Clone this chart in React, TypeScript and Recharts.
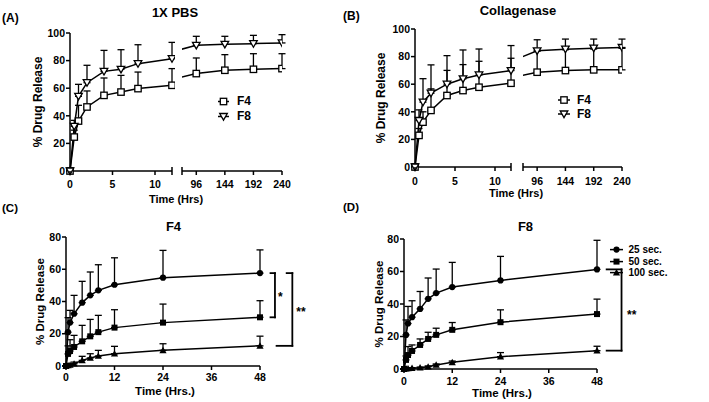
import React from "react";
import {
  LineChart,
  Line,
  XAxis,
  YAxis,
  ErrorBar,
  Legend,
  ReferenceLine,
} from "recharts";

const FONT = '"Liberation Sans", Arial, Helvetica, sans-serif';
const INK = "#000";

// (A) 1X PBS and (B) Collagenase: sampling times in hours, axis broken after 12 h
const hoursAB = [0, 0.5, 1, 2, 4, 6, 8, 12, 96, 144, 192, 240];
const earlyTicks = [0, 5, 10, 12];
const lateTicks = [72, 96, 144, 192, 240];
const pctTicks100 = [0, 20, 40, 60, 80, 100];

const pbsF4 = [0, 24.6, 36.2, 46.4, 54.8, 57.2, 59.7, 62.1, 70.6, 73.0, 73.7, 74.2];
const pbsF4Sd = [0, 5, 11.4, 11.6, 12.6, 12.1, 12.0, 12.1, 11.3, 11.3, 11.3, 10.8];
const pbsF8 = [0, 32.4, 54.1, 64.0, 72.2, 73.7, 77.8, 81.4, 91.1, 91.8, 92.3, 92.8];
const pbsF8Sd = [0, 4.3, 8.7, 12.6, 15.2, 14.2, 13.7, 11.8, 6.5, 5.8, 6.0, 6.0];

const colF4 = [0, 22.9, 32.5, 41.0, 51.8, 55.4, 57.8, 60.7, 68.7, 69.9, 70.4, 70.4];
const colF4Sd = [0, 5, 7.5, 15.6, 18.2, 18.8, 18.8, 18.1, 15.3, 15.1, 15.1, 15.6];
const colF8 = [0, 33.7, 47.0, 53.5, 60.0, 63.9, 66.7, 69.9, 84.2, 85.4, 86.1, 86.6];
const colF8Sd = [0, 7.7, 17.0, 20.5, 20.7, 20.9, 18.8, 18.1, 8.0, 7.3, 6.6, 6.1];

// (C) F4 and (D) F8: crosslinking time series
const hoursCD = [0, 0.5, 1, 2, 4, 6, 8, 12, 24, 48];
const timeTicks = [0, 12, 24, 36, 48];
const pctTicks80 = [0, 20, 40, 60, 80];

const f4Sec25 = [0, 21.0, 26.9, 32.4, 39.3, 43.8, 46.9, 50.4, 54.8, 57.6];
const f4Sec25Sd = [0, 9, 7.6, 11.4, 13.2, 14.5, 15.9, 16.7, 16.9, 14.4];
const f4Sec50 = [0, 7.5, 9.3, 11.8, 15.3, 18.4, 21.0, 23.8, 26.9, 30.2];
const f4Sec50Sd = [0, 5, 7, 7.2, 9.9, 10.5, 10.4, 11.1, 11.5, 10.3];
const f4Sec100 = [0, 0.4, 0.6, 1.4, 3.5, 5.0, 6.2, 7.6, 9.7, 12.5];
const f4Sec100Sd = [0, 0.4, 0.6, 1.0, 2.5, 2.6, 3.5, 4.6, 4.1, 6.0];

const f8Sec25 = [0, 21.0, 28.0, 31.9, 37.0, 43.2, 46.7, 50.4, 54.5, 61.3];
const f8Sec25Sd = [0, 9.2, 10.5, 10.1, 10.7, 12.8, 14.8, 15.2, 14.8, 17.9];
const f8Sec50 = [0, 5.6, 8.6, 11.1, 14.8, 18.5, 21.0, 24.1, 28.8, 33.8];
const f8Sec50Sd = [0, 2.4, 5.2, 3.7, 3.7, 4.1, 4.1, 4.5, 7.6, 9.2];
const f8Sec100 = [0, 0.2, 0.3, 0.5, 0.8, 1.4, 2.5, 4.1, 7.6, 11.3];
const f8Sec100Sd = [0, 0.2, 0.2, 0.3, 0.4, 0.5, 0.6, 0.8, 2.5, 2.7];

const last = (a: number[]) => a[a.length - 1];

// significance brackets, x in hours past the last sample
const bracketsC = [
  { topFrom: 50.6, botFrom: 50.6, spine: 51.7, top: last(f4Sec25), bottom: last(f4Sec50), label: "*", offset: 3, dy: 2 },
  { topFrom: 54.6, botFrom: 52.1, spine: 56.0, top: last(f4Sec25), bottom: last(f4Sec100), label: "**", offset: 4, dy: 2 },
];
const bracketsD = [
  { topFrom: 50.4, botFrom: 50.4, spine: 54.1, top: last(f8Sec25), bottom: last(f8Sec100), label: "**", offset: 5.5, dy: 5 },
];

type Shape = (cx: number, cy: number) => React.ReactElement;
const openSquare: Shape = (cx, cy) => (
  <rect x={cx - 3.2} y={cy - 3.2} width={6.4} height={6.4} fill="#fff" stroke={INK} strokeWidth={1.3} />
);
const openTriDown: Shape = (cx, cy) => (
  <polygon points={`${cx - 3.8},${cy - 3} ${cx + 3.8},${cy - 3} ${cx},${cy + 3.6}`} fill="#fff" stroke={INK} strokeWidth={1.3} />
);
const solidCircle: Shape = (cx, cy) => <circle cx={cx} cy={cy} r={3.1} fill={INK} />;
const solidSquare: Shape = (cx, cy) => <rect x={cx - 3} y={cy - 3} width={6} height={6} fill={INK} />;
const solidTriUp: Shape = (cx, cy) => (
  <polygon points={`${cx - 3.6},${cy + 2.8} ${cx + 3.6},${cy + 2.8} ${cx},${cy - 3.6}`} fill={INK} />
);

const dotOf = (shape: Shape) => (p: any) => (
  <g key={`dot-${p.index}`}>{p.cx == null || p.cy == null ? null : shape(p.cx, p.cy)}</g>
);

// legend rows keep the series order given by the shapes table
const legendContent =
  (shapes: Record<string, Shape>, rowH: number, swatchW: number, gap: number, fs: number) =>
  (props: any) => {
    const order = Object.keys(shapes);
    const items = [...(props.payload || [])].sort((a: any, b: any) => order.indexOf(a.value) - order.indexOf(b.value));
    return (
      <div style={{ fontFamily: FONT, fontWeight: 700, fontSize: fs, color: INK }}>
        {items.map((e: any) => (
          <div key={e.value} style={{ display: "flex", alignItems: "center", height: rowH, lineHeight: `${rowH}px` }}>
            <svg width={swatchW} height={rowH} style={{ display: "block" }}>
              <line x1={0} x2={swatchW} y1={rowH / 2} y2={rowH / 2} stroke={INK} strokeWidth={1.5} />
              {shapes[e.value] ? shapes[e.value](swatchW / 2, rowH / 2) : null}
            </svg>
            <span style={{ marginLeft: gap, whiteSpace: "nowrap" }}>{e.value}</span>
          </div>
        ))}
      </div>
    );
  };

const Txt = ({ x, y, size, children, center = true }: any) => (
  <div
    style={{
      position: "absolute",
      left: x,
      top: y - 0.49 * size,
      fontSize: size,
      lineHeight: `${size}px`,
      fontWeight: 700,
      whiteSpace: "nowrap",
      color: INK,
      transform: center ? "translateX(-50%)" : undefined,
    }}
  >
    {children}
  </div>
);

const axisStroke = { stroke: INK, strokeWidth: 1.5 };
const tickFont = { fill: INK, fontSize: 10.5, fontWeight: 700 };

// x ticks for the broken axis; the tick at the break runs through the axis
const breakTick = (edge: number, gap: number) => (p: any) => {
  const { x, y, payload } = p;
  const ay = y - 4 - gap;
  const isEdge = payload.value === edge;
  return (
    <g key={`tick-${payload.value}`}>
      <line x1={x} x2={x} y1={isEdge ? ay - 4 : ay} y2={ay + 4} stroke={INK} strokeWidth={1.5} />
      {!isEdge && (
        <text x={x} y={ay + 4 + gap} dy="0.71em" textAnchor="middle" {...tickFont}>
          {payload.value}
        </text>
      )}
    </g>
  );
};

type BrokenCfg = {
  top: number;
  plotH: number;
  height: number;
  leftX: number;
  leftW: number;
  yAxisW: number;
  leftMR: number;
  rightX: number;
  rightW: number;
  rightML: number;
  rightMR: number;
  gap: number;
  yLabelX: number;
  legendLeft: number;
  legendTop: number;
  rowH: number;
  swatchW: number;
  swatchGap: number;
};

const abShapes: Record<string, Shape> = { F4: openSquare, F8: openTriDown };

function BrokenPanel({ cfg, f4, f4Sd, f8, f8Sd }: { cfg: BrokenCfg; f4: number[]; f4Sd: number[]; f8: number[]; f8Sd: number[] }) {
  const rows = hoursAB.map((t, i) => ({
    t,
    F4: f4[i],
    f4Err: [0, f4Sd[i]],
    F8: f8[i],
    f8Err: [0, f8Sd[i]],
  }));
  const early = rows.filter((r) => r.t <= 12);
  const late = rows.filter((r) => r.t >= 12);
  const xh = cfg.height - cfg.top - cfg.plotH;

  const lines = (k: string) => [
    <Line
      key={`${k}-f4`}
      dataKey="F4"
      name="F4"
      stroke={INK}
      strokeWidth={1.5}
      dot={dotOf(openSquare)}
      activeDot={false}
      isAnimationActive={false}
    >
      <ErrorBar dataKey="f4Err" direction="y" width={3.5} stroke={INK} strokeWidth={1.3} />
    </Line>,
    <Line
      key={`${k}-f8`}
      dataKey="F8"
      name="F8"
      stroke={INK}
      strokeWidth={1.5}
      dot={dotOf(openTriDown)}
      activeDot={false}
      isAnimationActive={false}
    >
      <ErrorBar dataKey="f8Err" direction="y" width={3.5} stroke={INK} strokeWidth={1.3} />
    </Line>,
  ];

  return (
    <>
      <div style={{ position: "absolute", left: cfg.leftX, top: 0 }}>
        <LineChart width={cfg.leftW} height={cfg.height} data={early} margin={{ top: cfg.top, right: cfg.leftMR, left: 0, bottom: 0 }}>
          <XAxis
            dataKey="t"
            type="number"
            domain={[0, 12]}
            ticks={earlyTicks}
            interval={0}
            height={xh}
            axisLine={axisStroke}
            tickLine={false}
            tickSize={4}
            tickMargin={cfg.gap}
            tick={breakTick(12, cfg.gap)}
          />
          <YAxis
            type="number"
            domain={[0, 100]}
            ticks={pctTicks100}
            interval={0}
            width={cfg.yAxisW}
            axisLine={axisStroke}
            tickLine={axisStroke}
            tickSize={4}
            tickMargin={1}
            tick={tickFont}
            label={{
              value: "% Drug Release",
              angle: -90,
              position: "insideLeft",
              offset: cfg.yLabelX,
              style: { textAnchor: "middle", fontSize: 12, fontWeight: 700, fill: INK },
            }}
          />
          {lines("e")}
        </LineChart>
      </div>
      <div style={{ position: "absolute", left: cfg.rightX, top: 0 }}>
        <LineChart width={cfg.rightW} height={cfg.height} data={late} margin={{ top: cfg.top, right: cfg.rightMR, left: cfg.rightML, bottom: 0 }}>
          <XAxis
            dataKey="t"
            type="number"
            domain={[72, 240]}
            allowDataOverflow
            ticks={lateTicks}
            interval={0}
            height={xh}
            axisLine={axisStroke}
            tickLine={false}
            tickSize={4}
            tickMargin={cfg.gap}
            tick={breakTick(72, cfg.gap)}
          />
          <YAxis hide type="number" domain={[0, 100]} />
          {lines("l")}
          <Legend
            layout="vertical"
            verticalAlign="middle"
            align="center"
            wrapperStyle={{ left: cfg.legendLeft, top: cfg.legendTop, width: "auto" }}
            content={legendContent(abShapes, cfg.rowH, cfg.swatchW, cfg.swatchGap, 12)}
          />
        </LineChart>
      </div>
    </>
  );
}

type TimeCfg = {
  x: number;
  y: number;
  width: number;
  height: number;
  top: number;
  plotH: number;
  yAxisW: number;
  right: number;
  gap: number;
  yLabelX: number;
};

const cdShapes: Record<string, Shape> = { "25 sec.": solidCircle, "50 sec.": solidSquare, "100 sec.": solidTriUp };

function TimePanel({ cfg, series, brackets, legend }: any) {
  const [a, aSd, b, bSd, c, cSd] = series as number[][];
  const rows = hoursCD.map((t, i) => ({
    t,
    s25: a[i],
    e25: [0, aSd[i]],
    s50: b[i],
    e50: [0, bSd[i]],
    s100: c[i],
    e100: [0, cSd[i]],
  }));
  const xh = cfg.height - cfg.top - cfg.plotH;
  const br = { stroke: INK, strokeWidth: 1.8, strokeLinecap: "square" as const };

  return (
    <div style={{ position: "absolute", left: cfg.x, top: cfg.y }}>
      <LineChart width={cfg.width} height={cfg.height} data={rows} margin={{ top: cfg.top, right: cfg.right, left: 0, bottom: 0 }}>
        <XAxis
          dataKey="t"
          type="number"
          domain={[0, 48]}
          ticks={timeTicks}
          interval={0}
          height={xh}
          axisLine={axisStroke}
          tickLine={axisStroke}
          tickSize={4}
          tickMargin={cfg.gap}
          tick={tickFont}
        />
        <YAxis
          type="number"
          domain={[0, 80]}
          ticks={pctTicks80}
          interval={0}
          width={cfg.yAxisW}
          axisLine={axisStroke}
          tickLine={axisStroke}
          tickSize={4}
          tickMargin={1}
          tick={tickFont}
          label={{
            value: "% Drug Release",
            angle: -90,
            position: "insideLeft",
            offset: cfg.yLabelX,
            style: { textAnchor: "middle", fontSize: 11.5, fontWeight: 700, fill: INK },
          }}
        />
        <Line dataKey="s25" name="25 sec." stroke={INK} strokeWidth={1.5} dot={dotOf(solidCircle)} activeDot={false} isAnimationActive={false}>
          <ErrorBar dataKey="e25" direction="y" width={3.5} stroke={INK} strokeWidth={1.3} />
        </Line>
        <Line dataKey="s50" name="50 sec." stroke={INK} strokeWidth={1.5} dot={dotOf(solidSquare)} activeDot={false} isAnimationActive={false}>
          <ErrorBar dataKey="e50" direction="y" width={3.5} stroke={INK} strokeWidth={1.3} />
        </Line>
        <Line dataKey="s100" name="100 sec." stroke={INK} strokeWidth={1.5} dot={dotOf(solidTriUp)} activeDot={false} isAnimationActive={false}>
          <ErrorBar dataKey="e100" direction="y" width={3.5} stroke={INK} strokeWidth={1.3} />
        </Line>
        {brackets.map((b: any, i: number) => [
          <ReferenceLine key={`bt${i}`} segment={[{ x: b.topFrom, y: b.top }, { x: b.spine, y: b.top }]} ifOverflow="visible" {...br} />,
          <ReferenceLine
            key={`bs${i}`}
            segment={[{ x: b.spine, y: b.top }, { x: b.spine, y: b.bottom }]}
            ifOverflow="visible"
            {...br}
            label={{ value: b.label, position: "right", offset: b.offset, dy: b.dy, fill: INK, fontSize: 12, fontWeight: 700 }}
          />,
          <ReferenceLine key={`bb${i}`} segment={[{ x: b.botFrom, y: b.bottom }, { x: b.spine, y: b.bottom }]} ifOverflow="visible" {...br} />,
        ])}
        {legend ? (
          <Legend
            layout="vertical"
            verticalAlign="middle"
            align="center"
            wrapperStyle={{ left: legend.left, top: legend.top, width: "auto" }}
            content={legendContent(cdShapes, legend.rowH, legend.swatchW, legend.gap, 10)}
          />
        ) : null}
      </LineChart>
    </div>
  );
}

const cfgA: BrokenCfg = {
  top: 33, plotH: 138, height: 200,
  leftX: 0, leftW: 175, yAxisW: 70, leftMR: 3,
  rightX: 178, rightW: 118, rightML: 4, rightMR: 14,
  gap: 5.2, yLabelX: 38,
  legendLeft: 40, legendTop: 94, rowH: 15, swatchW: 11, swatchGap: 8,
};
const cfgB: BrokenCfg = {
  top: 29, plotH: 138, height: 200,
  leftX: 340, leftW: 175, yAxisW: 75, leftMR: 4,
  rightX: 515, rightW: 122, rightML: 8, rightMR: 15,
  gap: 6.3, yLabelX: 41,
  legendLeft: 43, legendTop: 93, rowH: 14, swatchW: 12, swatchGap: 7,
};
const cfgC: TimeCfg = { x: 0, y: 200, width: 330, height: 202, top: 37, plotH: 129, yAxisW: 66, right: 70, gap: 4, yLabelX: 40 };
const cfgD: TimeCfg = { x: 340, y: 200, width: 369, height: 202, top: 39, plotH: 130, yAxisW: 64, right: 112, gap: 5, yLabelX: 38.7 };

export default function App() {
  return (
    <div
      style={{
        position: "fixed",
        left: 0,
        top: 0,
        width: 709,
        height: 402,
        overflow: "hidden",
        background: "#fff",
        fontFamily: FONT,
        color: INK,
      }}
    >
      <BrokenPanel cfg={cfgA} f4={pbsF4} f4Sd={pbsF4Sd} f8={pbsF8} f8Sd={pbsF8Sd} />
      <BrokenPanel cfg={cfgB} f4={colF4} f4Sd={colF4Sd} f8={colF8} f8Sd={colF8Sd} />
      <TimePanel cfg={cfgC} series={[f4Sec25, f4Sec25Sd, f4Sec50, f4Sec50Sd, f4Sec100, f4Sec100Sd]} brackets={bracketsC} />
      <TimePanel
        cfg={cfgD}
        series={[f8Sec25, f8Sec25Sd, f8Sec50, f8Sec50Sd, f8Sec100, f8Sec100Sd]}
        brackets={bracketsD}
        legend={{ left: 270, top: 44.4, rowH: 11.2, swatchW: 13, gap: 5.5 }}
      />

      <Txt x={2} y={17.5} size={12} center={false}>(A)</Txt>
      <Txt x={175} y={12} size={13}>1X PBS</Txt>
      <Txt x={176} y={199} size={11}>Time (Hrs)</Txt>

      <Txt x={343} y={15.5} size={12} center={false}>(B)</Txt>
      <Txt x={518} y={10} size={13}>Collagenase</Txt>
      <Txt x={516} y={193.5} size={11}>Time (Hrs)</Txt>

      <Txt x={2} y={208.5} size={11.5} center={false}>(C)</Txt>
      <Txt x={173.5} y={226} size={13}>F4</Txt>
      <Txt x={165} y={391.5} size={11.5}>Time (Hrs.)</Txt>

      <Txt x={343} y={207.5} size={11.5} center={false}>(D)</Txt>
      <Txt x={525.5} y={226.5} size={13}>F8</Txt>
      <Txt x={502} y={394} size={11.5}>Time (Hrs.)</Txt>
    </div>
  );
}
